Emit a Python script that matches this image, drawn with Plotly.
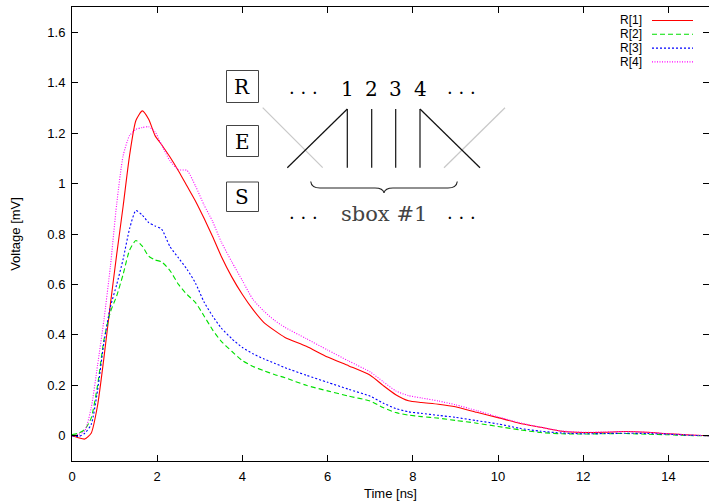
import plotly.graph_objects as go

# ---------------- data ----------------
time_ns = [0, 0.15, 0.3, 0.45, 0.6, 0.75, 0.9, 1.05, 1.2, 1.35, 1.5, 1.65, 1.8, 1.95,
           2.1, 2.3, 2.5, 2.7, 2.9, 3.1, 3.3, 3.5, 3.75, 4.0, 4.25, 4.5, 4.75, 5.0,
           5.5, 6.0, 6.5, 7.0, 7.3, 7.6, 7.9, 8.2, 8.6, 9.0, 9.5, 10.0, 10.5, 11.0,
           11.5, 12.0, 12.5, 13.0, 13.5, 14.0, 14.5, 15.0]

r1 = [0.0, -0.008, -0.013, 0.01, 0.12, 0.31, 0.52, 0.72, 0.91, 1.11, 1.25, 1.288, 1.255, 1.19,
      1.155, 1.105, 1.05, 0.99, 0.93, 0.862, 0.79, 0.713, 0.63, 0.56, 0.5, 0.45, 0.418, 0.39,
      0.355, 0.312, 0.277, 0.24, 0.2, 0.163, 0.139, 0.132, 0.125, 0.115, 0.093, 0.072, 0.05, 0.034,
      0.018, 0.013, 0.014, 0.017, 0.014, 0.008, 0.003, 0.0]

r2 = [0.005, 0.01, 0.025, 0.07, 0.2, 0.38, 0.49, 0.555, 0.64, 0.735, 0.774, 0.752, 0.712, 0.697,
      0.69, 0.655, 0.6, 0.56, 0.528, 0.475, 0.42, 0.375, 0.335, 0.298, 0.275, 0.258, 0.243, 0.23,
      0.2, 0.178, 0.157, 0.138, 0.112, 0.092, 0.082, 0.076, 0.07, 0.061, 0.05, 0.037, 0.024, 0.013,
      0.008, 0.007, 0.008, 0.009, 0.006, 0.004, 0.001, 0.0]

r3 = [0.0, -0.003, 0.01, 0.045, 0.18, 0.37, 0.51, 0.6, 0.7, 0.82, 0.893, 0.875, 0.845, 0.832,
      0.82, 0.75, 0.705, 0.66, 0.605, 0.53, 0.475, 0.428, 0.385, 0.35, 0.325, 0.305, 0.288, 0.27,
      0.24, 0.212, 0.184, 0.157, 0.13, 0.108, 0.095, 0.089, 0.081, 0.073, 0.06, 0.047, 0.03, 0.018,
      0.011, 0.008, 0.009, 0.01, 0.009, 0.006, 0.002, 0.0]

r4 = [0.0, 0.005, 0.02, 0.11, 0.28, 0.46, 0.67, 0.92, 1.11, 1.19, 1.215, 1.222, 1.225, 1.205,
      1.155, 1.09, 1.055, 1.052, 0.99, 0.915, 0.85, 0.77, 0.69, 0.615, 0.54, 0.495, 0.458, 0.43,
      0.385, 0.34, 0.296, 0.253, 0.215, 0.178, 0.159, 0.15, 0.138, 0.123, 0.1, 0.075, 0.052, 0.034,
      0.019, 0.014, 0.015, 0.017, 0.014, 0.008, 0.003, 0.0]

series_names = ["R[1]", "R[2]", "R[3]", "R[4]"]
x_ticks = [0, 2, 4, 6, 8, 10, 12, 14]
y_ticks = [0, 0.2, 0.4, 0.6, 0.8, 1.0, 1.2, 1.4, 1.6]
layer_labels = ["R", "E", "S"]
top_row_labels = ["1", "2", "3", "4"]
bottom_label = "sbox #1"

# ---------------- styles ----------------
colors = ["#ff0000", "#00e000", "#0000ff", "#ff00ff"]
dashes = ["solid", "5px,3px", "2px,2px", "1px,1.5px"]

W, H = 709, 504
L, R, T, B = 72, 0, 7, 43
PW, PH = W - L - R, H - T - B
PX_PER_NS = 42.6
X_RANGE = [0, PW / PX_PER_NS]
Y_RANGE = [-0.1, 1.7]


def px(x):
    return (x - L) / PW


def py(y):
    return (H - B - y) / PH


fig = go.Figure()
for name, ys, c, d in zip(series_names, [r1, r2, r3, r4], colors, dashes):
    fig.add_trace(go.Scatter(
        x=time_ns, y=ys, name=name, mode="lines", showlegend=False,
        line=dict(color=c, width=1.1, dash=d, shape="spline", smoothing=0.6),
    ))

shapes = []
annotations = []

# manual gnuplot-style legend (text right, sample left)
leg_y = [20.5, 34.3, 48.1, 61.9]
for name, c, d, yy in zip(series_names, colors, dashes, leg_y):
    annotations.append(dict(x=px(644), y=py(yy), xref="paper", yref="paper", text=name,
                            showarrow=False, xanchor="right", yanchor="middle",
                            font=dict(family="Liberation Sans", size=12, color="#000")))
    shapes.append(dict(type="line", xref="paper", yref="paper", x0=px(652), x1=px(693),
                       y0=py(yy), y1=py(yy), line=dict(color=c, width=1.1, dash=d)))

# ---- inset diagram ----
serif = "DejaVu Serif"
box_y = [(70.5, 102.5), (125.5, 156.5), (182, 211.5)]
for lab, (y0, y1) in zip(layer_labels, box_y):
    shapes.append(dict(type="rect", xref="paper", yref="paper", x0=px(226.5), x1=px(258.5),
                       y0=py(y0), y1=py(y1), line=dict(color="#444", width=1)))
    annotations.append(dict(x=px(242.5), y=py((y0 + y1) / 2 + 0.5), xref="paper", yref="paper",
                            text=lab, showarrow=False, xanchor="center", yanchor="middle",
                            font=dict(family=serif, size=20, color="#000")))

col_x = [347.3, 371.7, 395.7, 420.0]
for lab, xx in zip(top_row_labels, col_x):
    annotations.append(dict(x=px(xx), y=py(89), xref="paper", yref="paper", text=lab,
                            showarrow=False, xanchor="center", yanchor="middle",
                            font=dict(family=serif, size=20, color="#000")))
for xx, yy in [(303, 92), (461, 92), (303, 217), (461, 217)]:
    annotations.append(dict(x=px(xx), y=py(yy), xref="paper", yref="paper",
                            text="· · ·", showarrow=False, xanchor="center",
                            yanchor="middle", font=dict(family=serif, size=18, color="#000")))
annotations.append(dict(x=px(383.5), y=py(214), xref="paper", yref="paper", text=bottom_label,
                        showarrow=False, xanchor="center", yanchor="middle",
                        font=dict(family=serif, size=21, color="#444")))

# gray crossing lines
for (xa, ya, xb, yb) in [(262.7, 107.7, 322.7, 167.7), (505, 107.7, 444, 167.7)]:
    shapes.append(dict(type="line", xref="paper", yref="paper", x0=px(xa), y0=py(ya),
                       x1=px(xb), y1=py(yb), line=dict(color="#c8c8c8", width=1.2)))
# black lines
blk = [(287.3, 167.7, 347.3, 109), (420, 109, 480, 167.7)]
for xx in col_x:
    blk.append((xx, 109, xx, 167.7))
for (xa, ya, xb, yb) in blk:
    shapes.append(dict(type="line", xref="paper", yref="paper", x0=px(xa), y0=py(ya),
                       x1=px(xb), y1=py(yb), line=dict(color="#111", width=1.2)))

# curly brace
pts = [("M", 310.7, 181.5), ("Q", 311.5, 188, 320, 188), ("L", 375, 188),
       ("Q", 383, 188, 384, 193), ("Q", 385, 188, 393, 188), ("L", 448, 188),
       ("Q", 456.5, 188, 457.3, 181.5)]
path = ""
for p in pts:
    cmd = p[0]
    coords = p[1:]
    seg = cmd
    for i in range(0, len(coords), 2):
        seg += " %.5f,%.5f" % (px(coords[i]), py(coords[i + 1]))
    path += seg + " "
shapes.append(dict(type="path", xref="paper", yref="paper", path=path.strip(),
                   line=dict(color="#222", width=1.1)))

axis_common = dict(showline=True, linecolor="#000", linewidth=1, mirror="ticks",
                   ticks="inside", ticklen=6, tickcolor="#000", tickwidth=1,
                   showgrid=False, zeroline=False, ticklabelstandoff=3,
                   tickfont=dict(family="Liberation Sans", size=13, color="#000"))

fig.update_layout(
    width=W, height=H,
    margin=dict(l=L, r=R, t=T, b=B, pad=0),
    paper_bgcolor="white", plot_bgcolor="white",
    xaxis=dict(range=X_RANGE, tickvals=x_ticks, ticktext=[str(v) for v in x_ticks],
               title=dict(text="Time [ns]", standoff=6,
                          font=dict(family="Liberation Sans", size=13, color="#000")),
               **axis_common),
    yaxis=dict(range=Y_RANGE, tickvals=y_ticks, ticktext=["%g" % v for v in y_ticks],
               title=dict(text="Voltage [mV]", standoff=23,
                          font=dict(family="Liberation Sans", size=13, color="#000")),
               **axis_common),
    shapes=shapes, annotations=annotations,
)

fig.write_html("out.html")
